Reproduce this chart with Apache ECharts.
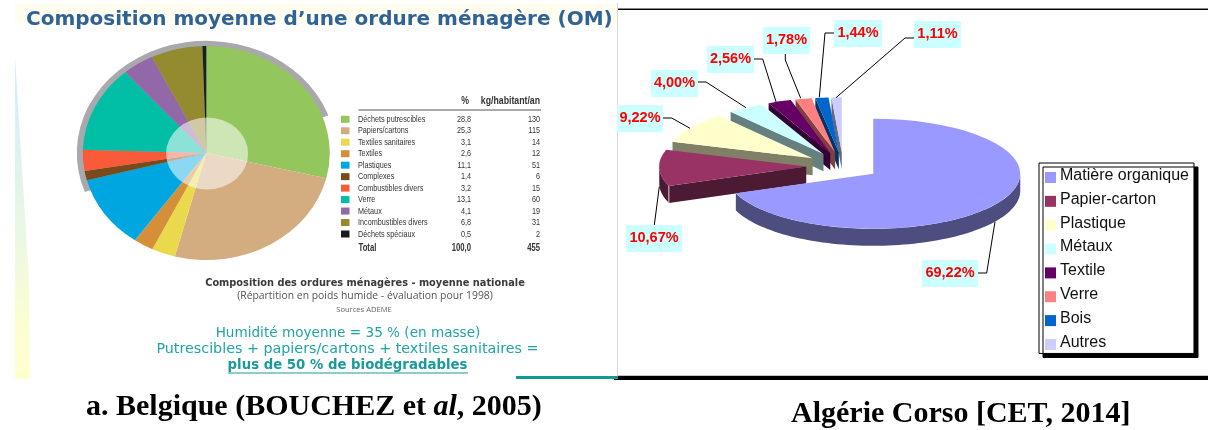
<!DOCTYPE html>
<html><head><meta charset="utf-8">
<style>html,body{margin:0;padding:0;background:#fff}#c{width:1208px;height:430px}</style>
<script src="https://cdn.jsdelivr.net/npm/echarts@6/dist/echarts.min.js"></script>
</head><body><div id="c"></div>
<script>
// ---- data: left chart (Belgique)
const beNames = ['Déchets putrescibles','Papiers/cartons','Textiles sanitaires','Textiles','Plastiques','Complexes','Combustibles divers','Verre','Métaux','Incombustibles divers','Déchets spéciaux'];
const bePercent = [28.8,25.3,3.1,2.6,11.1,1.4,3.2,13.1,4.1,6.8,0.5];
const beKg = [130,115,14,12,51,6,15,60,19,31,2];
const beTotalPercent = '100,0';
const beTotalKg = '455';
const beColors = ['#93c65c','#d3ac80','#ead94d','#d48f38','#00a6e0','#7a4a1a','#f95a3a','#00bfa6','#9268a8','#948a2f','#14231f'];
// ---- data: right chart (Algérie)
const dzNames = ['Matière organique','Papier-carton','Plastique','Métaux','Textile','Verre','Bois','Autres'];
const dzPercent = [69.22,10.67,9.22,4.00,2.56,1.78,1.44,1.11];
const dzColors = ['#9999ff','#993366','#ffffcc','#ccffff','#660066','#ff8080','#0066cc','#ccccff'];
const dzDark = ['#4d4d80','#4d1a33','#808066','#668080','#330033','#804040','#003366','#666680'];
// ---- layout
const L = {cx:206.3,cy:153,rx:123.5,ry:107};
const R = {cx:843,cy:166,rx:147,ry:55,explode:0.25,depth:17};
// [box x, box y, box w, box h], leader polyline
const dzLabelBoxes = [[922,260,56,27],[626,225,56,27],[617,105,46,27],[651,70,47,27],[707,46,47,27],[763,27,47,27],[834,20,48,27],[914,21,47,27]];
const dzLeaders = [
 [[978,273],[986.7,273],[995,221.7]],
 [[654.3,225],[659.3,186.7]],
 [[663,118],[671.7,118],[690,128.3]],
 [[698,82],[706,82],[746,107.7]],
 [[754,59],[762.7,59],[776,101.7]],
 [[785.3,54],[785.3,60],[800.7,98.3]],
 [[834,33],[825,33],[819.3,97.3]],
 [[914,38],[905,38],[836,97.7]]
];
const deg = Math.PI/180;
function ranges(vals){const t=vals.reduce((a,b)=>a+b,0);let c=0;return vals.map(v=>{const a0=c/t*360;c+=v;return [a0,c/t*360];});}
const beRanges = ranges(bePercent), dzRanges = ranges(dzPercent);

function renderBe(params, api){
  const i = params.dataIndex, r = beRanges[i];
  return {type:'sector', x:L.cx, y:L.cy, scaleY:L.ry/L.rx,
    shape:{cx:0,cy:0,r0:0,r:L.rx,startAngle:(r[0]-90)*deg,endAngle:(r[1]-90)*deg,clockwise:true},
    style:{fill:beColors[i]}};
}
function renderDz(i){
  return function(){
    const r = dzRanges[i], mid=(r[0]+r[1])/2*deg;
    const ax = R.cx + R.rx*R.explode*Math.sin(mid), ay = R.cy - R.ry*R.explode*Math.cos(mid);
    const pt = a => [ax+R.rx*Math.sin(a*deg), ay-R.ry*Math.cos(a*deg)];
    const children = [];
    const w0=Math.max(r[0],90), w1=Math.min(r[1],270);
    if (w1>w0){
      const top=[],bot=[];
      for(let a=w0;a<=w1+1e-6;a+=Math.min(2,(w1-w0))){const p=pt(a);top.push(p);bot.unshift([p[0],p[1]+R.depth]);}
      const e=pt(w1);top.push(e);bot.unshift([e[0],e[1]+R.depth]);
      children.push({type:'polygon',shape:{points:top.concat(bot)},style:{fill:dzDark[i]}});
    }
    if (r[0]>180 && r[0]<360){
      const p=pt(r[0]);
      children.push({type:'polygon',shape:{points:[[ax,ay],p,[p[0],p[1]+R.depth],[ax,ay+R.depth]]},style:{fill:dzDark[i]}});
      if (w1>w0) children.push({type:'line',shape:{x1:p[0],y1:p[1],x2:p[0],y2:p[1]+R.depth},style:{stroke:'#d8cfd6',lineWidth:1}});
    }
    children.push({type:'sector',x:ax,y:ay,scaleY:R.ry/R.rx,
      shape:{cx:0,cy:0,r0:0,r:R.rx,startAngle:(r[0]-90)*deg,endAngle:(r[1]-90)*deg,clockwise:true},
      style:{fill:dzColors[i]}});
    return {type:'group',children};
  };
}
const gfx = [];
const T = (text,x,y,font,fill,align,z)=>gfx.push({type:'text',z:z||3,style:{text,x,y,font,fill,textAlign:align||'left',textVerticalAlign:'middle'}});
// condensed table text: horizontally squeezed real text
const N = (text,x,y,font,fill,align)=>gfx.push({type:'text',z:3,x,y,scaleX:0.74,style:{text,x:0,y:0,font,fill,textAlign:align||'left',textVerticalAlign:'middle'}});
const rect=(x,y,w,h,fill,z)=>gfx.push({type:'rect',z:z||0,shape:{x,y,width:w,height:h},style:{fill}});
// slide background pieces
rect(15,3.5,602,19.5,'#fffdf0',0);
gfx.push({type:'polygon',z:0,shape:{points:[[15,57],[29,280],[30,379],[15,379]]},
  style:{fill:{type:'linear',x:0,y:0,x2:0,y2:1,colorStops:[{offset:0,color:'#cdeefb'},{offset:.55,color:'#eaf7e4'},{offset:.8,color:'#fbfdd2'},{offset:1,color:'#ffffcf'}]}}});
rect(617,3,1,373,'#d8d8d8',0);
rect(618,8,590,1,'#888888',0);
rect(618,9,590,1,'#000000',0);
rect(618,375,590,1,'#c8c8c8',0);
rect(614,376,594,4,'#000000',0);
rect(516,376,102,3,'#0f9a96',1);
// left pie decoration
gfx.push({type:'sector',z:1,x:L.cx,y:L.cy,scaleY:L.ry/L.rx,shape:{cx:0,cy:0,r0:0,r:L.rx+6,startAngle:(249.7-90)*deg,endAngle:(430.5-90)*deg,clockwise:true},style:{fill:'#a8a8ad'}});
gfx.push({type:'circle',z:5,x:L.cx+0.8,y:L.cy+0.5,scaleY:36/41,shape:{cx:0,cy:0,r:41},style:{fill:'rgba(255,255,255,0.55)'}});
// title and texts
T('Composition moyenne d’une ordure ménagère (OM)',26,19.5,'bold 20px "DejaVu Sans"','#2f6396');
const tf='9.8px "Liberation Sans"', tb='bold 10.4px "Liberation Sans"', th='bold 11.8px "Liberation Sans"', ink='#333333';
N('%',469,101,th,ink,'right');
N('kg/habitant/an',540,101,th,ink,'right');
rect(358.5,109.5,182.5,1,'#555555',1);
const swatch = beColors.map((c,i)=>i===10?'#1a1a1a':c);
beNames.forEach((n,i)=>{
  const y=119.3+i*11.47;
  rect(341,y-3.5,8.5,7,swatch[i],1);
  N(n,358,y,tf,ink);
  N(bePercent[i].toFixed(1).replace('.',','),471,y,tf,ink,'right');
  N(String(beKg[i]),540,y,tf,ink,'right');
});
N('Total',358.5,248,tb,ink);
N(beTotalPercent,471,248,tb,ink,'right');
N(beTotalKg,540,248,tb,ink,'right');
T('Composition des ordures ménagères - moyenne nationale',365,283.7,'bold 9.8px "DejaVu Sans"','#3a3a3a','center');
T('(Répartition en poids humide - évaluation pour 1998)',365,296,'10.4px "Open Sans"','#555555','center');
T('Sources ADEME',364,310,'7.6px "Open Sans"','#666666','center');
const teal='#1fa5a5';
T('Humidité moyenne = 35 % (en masse)',348,333,'13.6px "DejaVu Sans"',teal,'center');
T('Putrescibles + papiers/cartons + textiles sanitaires =',347.5,349,'14.3px "DejaVu Sans"',teal,'center');
T('plus de 50 % de biodégradables',347.5,366,'bold 13.3px "DejaVu Sans"','#1a9a9a','center');
rect(228,372.5,240,1,'#1a9a9a',3);
// captions
gfx.push({type:'text',z:3,style:{x:86,y:407,textVerticalAlign:'middle',text:'{b|a. Belgique (BOUCHEZ et }{i|al}{b|, 2005)}',rich:{b:{fontFamily:'Liberation Serif',fontWeight:'bold',fontSize:30,fill:'#000'},i:{fontFamily:'Liberation Serif',fontWeight:'bold',fontStyle:'italic',fontSize:30,fill:'#000'}}}});
T('Algérie Corso [CET, 2014]',791,414,'bold 30px "Liberation Serif"','#000000');
// right pie labels
dzPercent.forEach((v,i)=>{
  const b=dzLabelBoxes[i];
  rect(b[0],b[1],b[2],b[3],'#ccffff',6);
  T(v.toFixed(2).replace('.',',')+'%',b[0]+b[2]/2,b[1]+b[3]/2-1,'bold 14.5px "Liberation Sans"','#ff0000','center',8);
  gfx.push({type:'polyline',z:7,shape:{points:dzLeaders[i]},style:{stroke:'#000',lineWidth:1,fill:null}});
});

const series=[{type:'custom',name:'Belgique',coordinateSystem:'none',data:bePercent,renderItem:renderBe,z:2,silent:true}];
// back-to-front painter's order for the exploded 3D pie
[7,6,5,4,3,2,1,0].forEach((i,k)=>series.push({type:'custom',name:dzNames[i],coordinateSystem:'none',data:[dzPercent[i]],renderItem:renderDz(i),z:2+k*0.01,itemStyle:{color:dzColors[i]},silent:true}));

const chart=echarts.init(document.getElementById('c'),null,{renderer:'canvas'});
chart.setOption({animation:false,backgroundColor:'#ffffff',
  tooltip:{show:false},
  legend:{show:true,data:dzNames,orient:'vertical',left:1039,top:163,padding:[4.5,5,3,6],itemWidth:11,itemHeight:11,itemGap:7.85,icon:'rect',selectedMode:false,
    backgroundColor:'#ffffff',borderColor:'#000000',borderWidth:1,shadowColor:'#000000',shadowOffsetX:4,shadowOffsetY:4,shadowBlur:0,
    formatter:'{a|{name}}',
    textStyle:{fontFamily:'Liberation Sans',fontSize:16,color:'#111111',rich:{a:{fontFamily:'Liberation Sans',fontSize:16,color:'#111111',padding:[0,0,4,-1]}}}},
  series,
  graphic:{elements:gfx}
});
</script></body></html>
